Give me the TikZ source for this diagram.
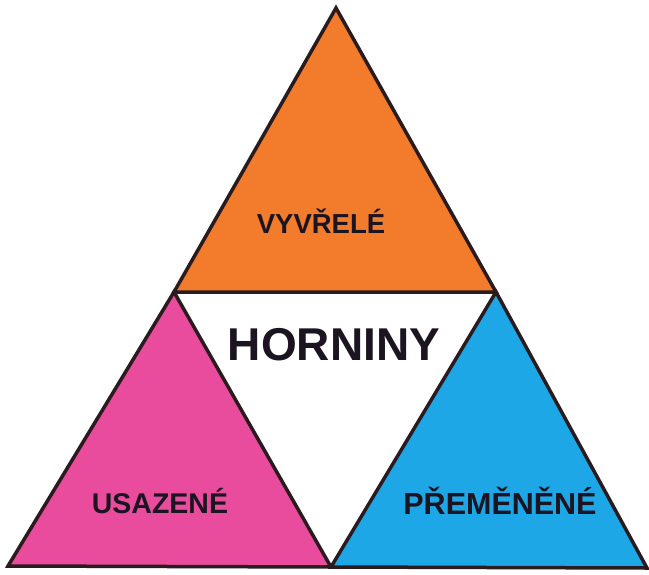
\documentclass[tikz,border=0pt]{standalone}
\usepackage{fontspec}
\setmainfont{Liberation Sans}
\definecolor{orng}{HTML}{F27B2C}
\definecolor{pnk}{HTML}{E94C9C}
\definecolor{blu}{HTML}{1DA7E7}
\definecolor{edge}{HTML}{2A1C1E}
\definecolor{ink}{HTML}{1C1420}
\tikzset{
  tri/.style={draw=edge, line width=3.5pt, line join=miter},
  lbl/.style={anchor=base, text=ink, font=\bfseries, inner sep=0pt}
}
\begin{document}
\begin{tikzpicture}[x=1pt,y=-1pt]
\useasboundingbox (0,0) rectangle (649,574);
\fill[white] (0,0) rectangle (649,574);
\coordinate (T) at (336,8);
\coordinate (L) at (174,292);
\coordinate (R) at (496,292);
\coordinate (BL) at (8,566);
\coordinate (BM) at (331,567);
\coordinate (BR) at (647,568);
\filldraw[tri, fill=orng] (T) -- (R) -- (L) -- cycle;
\filldraw[tri, fill=pnk] (L) -- (BM) -- (BL) -- cycle;
\filldraw[tri, fill=blu] (R) -- (BR) -- (BM) -- cycle;
\node[lbl, font=\bfseries\fontsize{27.5}{30}\selectfont] (vyv) at (321,233) {VYVŘELÉ};
\node[lbl, font=\bfseries\fontsize{46}{50}\selectfont] (hor) at (334,360) {HORNINY};
\node[lbl, font=\bfseries\fontsize{28.5}{32}\selectfont] (usa) at (160,513) {USAZENÉ};
\node[lbl, font=\bfseries\fontsize{30.5}{33}\selectfont] (pre) at (500,514) {PŘEMĚNĚNÉ};
\end{tikzpicture}
\end{document}
